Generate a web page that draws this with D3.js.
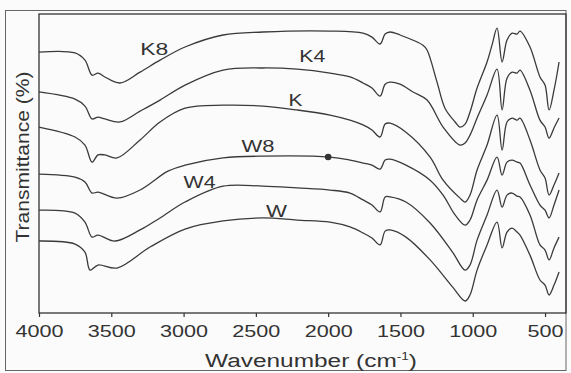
<!DOCTYPE html>
<html>
<head>
<meta charset="utf-8">
<script src="https://cdn.jsdelivr.net/npm/d3@7"></script>
<style>
  body { margin: 0; background: #fbfbfb; }
  svg { display: block; font-family: "Liberation Sans", Arial, sans-serif; }
</style>
</head>
<body>
<svg id="chart"></svg>
<script>
const W = 571, H = 373;
const margin = {top: 14, bottom: 60, left: 39};

// wavenumber ticks (cm-1)
const xTicks = [4000, 3500, 3000, 2500, 2000, 1500, 1000, 500];

// spectra: [wavenumber, transmittance (a.u.)]
const K8 = [[4000,87.0],[3751,86.7],[3682,84.3],[3633,79.3],[3592,80.0],[3544,78.7],[3440,76.7],[3301,80.3],[3163,84.3],[2990,88.7],[2727,92.7],[2451,93.7],[1987,94.0],[1759,93.3],[1697,92.0],[1641,89.7],[1606,93.0],[1572,93.7],[1503,92.7],[1344,89.3],[1316,87.7],[1247,77.0],[1192,68.3],[1122,63.7],[1088,62.0],[1053,63.0],[1019,67.0],[970,75.0],[901,83.7],[867,89.3],[832,95.0],[797,83.7],[763,91.0],[728,93.3],[694,93.0],[673,94.0],[604,88.7],[535,78.7],[500,76.0],[472,67.7],[438,74.3],[403,83.7]];
const K4 = [[4000,73.7],[3751,71.3],[3682,69.0],[3633,64.7],[3592,65.3],[3544,64.7],[3440,63.7],[3301,67.3],[3163,71.0],[2990,76.0],[2727,81.0],[2451,81.7],[2215,81.3],[1987,80.0],[1849,78.7],[1759,76.7],[1697,75.0],[1641,72.3],[1606,76.3],[1572,77.0],[1503,76.3],[1413,73.7],[1316,71.0],[1205,62.0],[1088,56.0],[1053,56.7],[1019,59.3],[970,65.0],[901,72.7],[832,81.3],[797,67.7],[763,78.3],[728,80.3],[694,80.0],[673,81.0],[604,74.3],[535,64.3],[500,62.0],[472,58.3],[438,61.7],[403,65.0]];
const K = [[4000,62.0],[3751,58.7],[3682,56.0],[3633,50.3],[3592,52.7],[3544,52.7],[3460,51.7],[3301,57.7],[3163,63.7],[2990,68.3],[2727,69.3],[2451,69.0],[2215,67.7],[1987,66.0],[1849,64.3],[1759,62.7],[1697,61.0],[1641,58.7],[1606,63.0],[1572,63.3],[1462,60.3],[1295,52.0],[1205,44.3],[1088,38.3],[1053,37.0],[1019,39.3],[970,47.7],[901,56.0],[832,66.0],[797,54.3],[763,63.7],[728,65.0],[694,64.3],[673,65.0],[604,57.7],[535,47.7],[500,45.0],[472,39.3],[438,42.7],[403,46.7]];
const W8 = [[4000,46.3],[3751,45.3],[3682,43.7],[3633,40.0],[3592,40.3],[3460,38.3],[3301,41.0],[3108,47.3],[2990,49.3],[2727,51.7],[2451,52.3],[1987,52.0],[1849,51.0],[1759,50.0],[1697,49.3],[1641,48.0],[1606,51.0],[1572,51.3],[1462,49.3],[1295,44.3],[1205,39.3],[1122,32.7],[1053,29.3],[1019,31.0],[970,37.7],[901,44.3],[832,52.0],[797,46.0],[763,50.3],[728,51.0],[694,50.3],[673,50.0],[604,42.7],[535,36.0],[500,34.3],[472,31.7],[438,36.0],[403,41.0]];
const W4 = [[4000,34.3],[3751,33.3],[3682,30.3],[3633,25.3],[3592,26.0],[3475,24.0],[3301,27.7],[3163,31.7],[2990,37.0],[2727,42.3],[2451,42.3],[2215,41.7],[1987,41.0],[1849,40.0],[1759,37.7],[1697,36.0],[1641,33.7],[1606,38.7],[1572,38.7],[1462,37.0],[1295,30.0],[1140,20.3],[1053,14.3],[1019,16.0],[970,24.3],[901,32.7],[832,41.0],[797,35.3],[763,39.3],[728,40.0],[694,39.0],[673,38.7],[604,32.7],[535,22.7],[500,21.0],[472,17.7],[438,21.7],[403,25.3]];
const Wc = [[4000,24.0],[3751,23.0],[3682,20.3],[3647,14.3],[3592,16.0],[3460,15.0],[3232,22.0],[2990,28.0],[2727,30.7],[2451,31.7],[2215,31.0],[1987,30.3],[1849,28.7],[1759,26.7],[1697,25.0],[1641,22.7],[1606,27.3],[1572,27.7],[1462,25.3],[1295,17.7],[1140,8.7],[1053,4.0],[1019,6.0],[970,14.3],[901,22.7],[832,30.3],[797,21.7],[763,27.0],[728,28.3],[694,27.0],[673,26.0],[604,19.3],[535,11.0],[500,9.3],[472,6.0],[438,9.3],[403,13.7]];

const series = [K8, K4, K, W8, W4, Wc];
// curve labels: name, wavenumber, transmittance at baseline
const labelNames = ["K8", "K4", "K", "W8", "W4", "W"];
const labelPos = [[3300, 86.0], [2200, 83.7], [2275, 69.0], [2600, 53.7], [3000, 41.7], [2430, 32.0]];
const labelWidth = [28, 26, 14, 33, 32, 21];
// marked point on W8
const marker = [2000, 52.0];

const plotRight = 566, plotBottom = 313;

const svg = d3.select("#chart").attr("width", W).attr("height", H);

svg.append("rect").attr("width", W).attr("height", H).attr("fill", "#fbfbfb");
// outer frame
svg.append("rect").attr("x", 5.5).attr("y", 10.5).attr("width", plotRight - 5.5).attr("height", 360)
   .attr("fill", "none").attr("stroke", "#666").attr("stroke-width", 1);

const x = d3.scaleLinear().domain([4000, 355]).range([margin.left, plotRight]);
const y = d3.scaleLinear().domain([0, 99.7]).range([plotBottom, margin.top]);

// plot frame
svg.append("rect").attr("x", margin.left).attr("y", margin.top)
   .attr("width", plotRight - margin.left).attr("height", plotBottom - margin.top)
   .attr("fill", "none").attr("stroke", "#333").attr("stroke-width", 1.3);

const xAxis = d3.axisBottom(x).tickValues(xTicks).tickSizeInner(4).tickSizeOuter(0).tickFormat(d3.format("d"));
const gx = svg.append("g").attr("transform", `translate(0,${plotBottom})`).call(xAxis);
gx.select(".domain").remove();
gx.selectAll(".tick line").attr("stroke", "#333").attr("stroke-width", 1.2);
gx.selectAll(".tick text")
  .attr("y", 24).attr("dy", 0)
  .style("font-size", "16px").attr("fill", "#333")
  .attr("textLength", d => String(d).length * 12)
  .attr("lengthAdjust", "spacingAndGlyphs");

const line = d3.line().x(d => x(d[0])).y(d => y(d[1])).curve(d3.curveCatmullRom.alpha(0.5));

svg.append("g").selectAll("path").data(series).join("path")
   .attr("d", line)
   .attr("fill", "none").attr("stroke", "#3a3a3a").attr("stroke-width", 1.3);

svg.append("circle").attr("cx", x(marker[0])).attr("cy", y(marker[1])).attr("r", 3.3).attr("fill", "#333");

svg.append("g").selectAll("text").data(labelNames).join("text")
   .attr("x", (d, i) => x(labelPos[i][0])).attr("y", (d, i) => y(labelPos[i][1]))
   .attr("textLength", (d, i) => labelWidth[i]).attr("lengthAdjust", "spacingAndGlyphs")
   .style("font-size", "17px").attr("fill", "#333")
   .text(d => d);

// axis titles
const xt = svg.append("text").attr("x", 311).attr("y", 367).attr("text-anchor", "middle")
   .style("font-size", "18px").attr("fill", "#333")
   .attr("textLength", 212).attr("lengthAdjust", "spacingAndGlyphs");
xt.append("tspan").text("Wavenumber (cm");
xt.append("tspan").attr("dy", -7).style("font-size", "10px").text("-1");
xt.append("tspan").attr("dy", 7).text(")");

svg.append("text").attr("transform", "translate(29,157) rotate(-90)").attr("text-anchor", "middle")
   .style("font-size", "18px").attr("fill", "#333")
   .attr("textLength", 171).attr("lengthAdjust", "spacingAndGlyphs")
   .text("Transmittance (%)");
</script>
</body>
</html>
